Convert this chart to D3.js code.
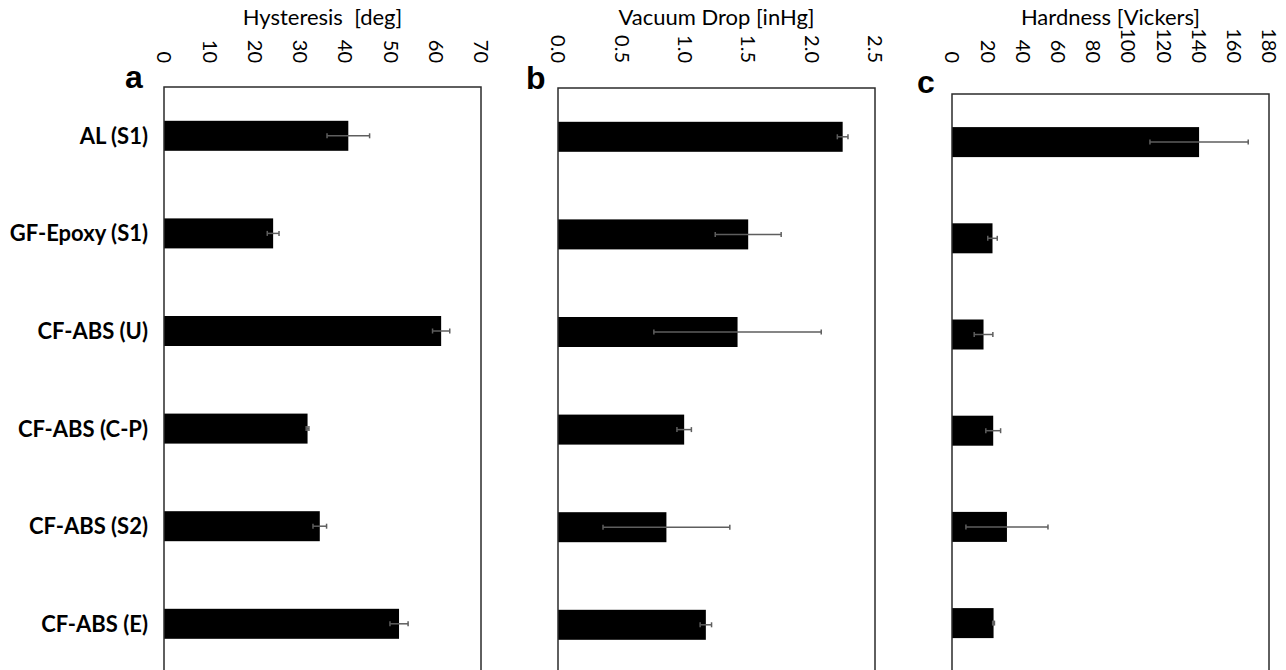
<!DOCTYPE html>
<html>
<head>
<meta charset="utf-8">
<script src="https://cdn.jsdelivr.net/npm/d3@7"></script>
<style>
  html, body { margin: 0; padding: 0; background: #fff; }
  svg { display: block; }
  svg text { white-space: pre; }
</style>
</head>
<body>
<div id="chart"></div>
<script>
// Sample names (shared by all three panels)
const categories = ['AL (S1)', 'GF-Epoxy (S1)', 'CF-ABS (U)', 'CF-ABS (C-P)', 'CF-ABS (S2)', 'CF-ABS (E)'];

// a: hysteresis [deg]
const hysteresis = [40.7, 24.1, 61.2, 31.7, 34.4, 51.9];
const hysteresisErr = [4.7, 1.3, 1.9, 0.3, 1.5, 2.0];
const hysteresisTicks = [0, 10, 20, 30, 40, 50, 60, 70];

// b: vacuum drop [inHg]
const vacuumDrop = [2.245, 1.50, 1.416, 0.995, 0.855, 1.166];
const vacuumErr = [0.042, 0.26, 0.66, 0.057, 0.50, 0.045];
const vacuumTicks = [0, 0.5, 1.0, 1.5, 2.0, 2.5];

// c: hardness [Vickers]
const hardness = [140.3, 23.0, 17.9, 23.4, 31.2, 23.6];
const hardnessErr = [27.9, 2.7, 5.3, 4.2, 23.3, 0.5];
const hardnessTicks = [0, 20, 40, 60, 80, 100, 120, 140, 160, 180];

const width = 1286, height = 670;
const FONT = 'Lato, "Open Sans", sans-serif';

const svg = d3.select('#chart').append('svg')
  .attr('width', width)
  .attr('height', height);

// panel layout
const panels = [
  { letter: 'a', title: 'Hysteresis  [deg]', values: hysteresis, errs: hysteresisErr,
    ticks: hysteresisTicks, fmt: d3.format('d'), max: 70,
    x0: 164, x1: 481, top: 87, step: 97.6, lx: 125, ly: 88 },
  { letter: 'b', title: 'Vacuum Drop [inHg]', values: vacuumDrop, errs: vacuumErr,
    ticks: vacuumTicks, fmt: d3.format('.1f'), max: 2.5,
    x0: 558, x1: 875, top: 88, step: 97.6, lx: 526, ly: 89 },
  { letter: 'c', title: 'Hardness [Vickers]', values: hardness, errs: hardnessErr,
    ticks: hardnessTicks, fmt: d3.format('d'), max: 180,
    x0: 952, x1: 1269, top: 94, step: 96.2, lx: 917, ly: 93 }
];

panels.forEach((p, pi) => {
  const x = d3.scaleLinear().domain([0, p.max]).range([p.x0, p.x1]);
  const pad = 1 - 30 / p.step;
  const y = d3.scaleBand()
    .domain(categories)
    .range([p.top, p.top + p.step * categories.length])
    .paddingInner(pad)
    .paddingOuter(pad / 2);

  const g = svg.append('g');

  // bars
  g.selectAll('rect.bar')
    .data(p.values)
    .join('rect')
    .attr('class', 'bar')
    .attr('x', x(0))
    .attr('y', (d, i) => y(categories[i]))
    .attr('width', d => x(d) - x(0))
    .attr('height', y.bandwidth())
    .attr('fill', '#000');

  // error bars
  const eb = g.append('g')
    .attr('stroke', '#5e5e5e')
    .attr('stroke-width', 1.5);
  p.values.forEach((v, i) => {
    const cy = y(categories[i]) + y.bandwidth() / 2;
    const lo = x(v - p.errs[i]), hi = x(v + p.errs[i]);
    eb.append('line').attr('x1', lo).attr('x2', hi).attr('y1', cy).attr('y2', cy);
    eb.append('line').attr('x1', lo).attr('x2', lo).attr('y1', cy - 2.5).attr('y2', cy + 2.5);
    eb.append('line').attr('x1', hi).attr('x2', hi).attr('y1', cy - 2.5).attr('y2', cy + 2.5);
  });

  // plot frame
  g.append('rect')
    .attr('x', p.x0)
    .attr('y', p.top)
    .attr('width', p.x1 - p.x0)
    .attr('height', p.step * categories.length)
    .attr('fill', 'none')
    .attr('stroke', '#2b2b2b')
    .attr('stroke-width', 1.5);

  // top value axis, labels rotated to read downward
  const axis = d3.axisTop(x).tickValues(p.ticks).tickFormat(p.fmt).tickSize(0);
  const ax = g.append('g')
    .attr('transform', `translate(0,${p.top})`)
    .call(axis);
  ax.select('.domain').remove();
  ax.selectAll('text')
    .attr('transform', 'rotate(90)')
    .attr('x', -(p.top - 63))
    .attr('y', 0)
    .attr('dy', '0.36em')
    .attr('text-anchor', 'end')
    .attr('font-family', FONT)
    .attr('font-size', 20)
    .attr('fill', '#000');

  // axis title
  g.append('text')
    .attr('x', (p.x0 + p.x1) / 2)
    .attr('y', 25)
    .attr('text-anchor', 'middle')
    .attr('font-family', FONT)
    .attr('font-size', 22)
    .attr('fill', '#000')
    .text(p.title);

  // panel letter
  g.append('text')
    .attr('x', p.lx)
    .attr('y', p.ly)
    .attr('font-family', '"Liberation Sans", Arial, sans-serif')
    .attr('font-weight', 'bold')
    .attr('font-size', 32)
    .attr('fill', '#000')
    .text(p.letter);

  // category labels only on the first panel
  if (pi === 0) {
    g.selectAll('text.cat')
      .data(categories)
      .join('text')
      .attr('class', 'cat')
      .attr('x', 148)
      .attr('y', d => y(d) + y.bandwidth() / 2)
      .attr('dy', '0.36em')
      .attr('text-anchor', 'end')
      .attr('font-family', FONT)
      .attr('font-weight', 'bold')
      .attr('font-size', 22)
      .attr('fill', '#000')
      .text(d => d);
  }
});
</script>
</body>
</html>
